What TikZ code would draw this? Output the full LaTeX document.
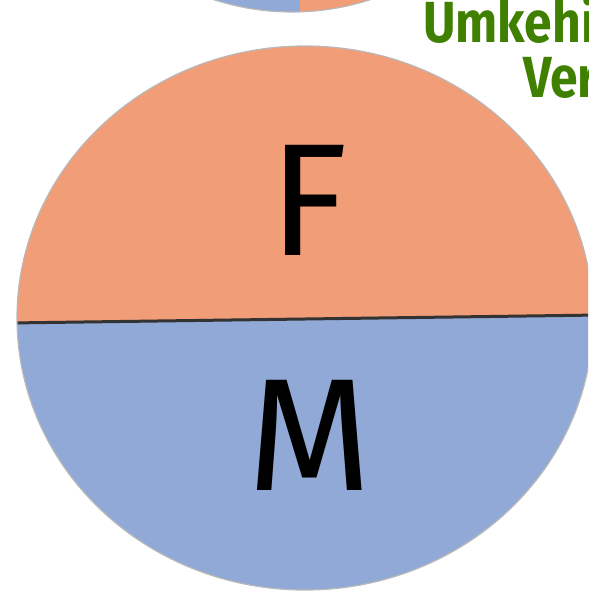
\documentclass[tikz,border=0pt]{standalone}
\usepackage{fontspec}
\newfontfamily\titlefont[FakeStretch=0.86]{Fira Sans}
\newfontfamily\letterfont{Fira Sans}
\definecolor{femalecol}{RGB}{240,157,120}
\definecolor{malecol}{RGB}{145,169,214}
\definecolor{titlecol}{RGB}{64,128,0}
\begin{document}
\begin{tikzpicture}[
    x=1pt, y=-1pt,
    title/.style={font=\titlefont\bfseries\fontsize{58}{58}\selectfont, text=titlecol, inner sep=0pt, anchor=base west},
    letter/.style={font=\letterfont\fontsize{160}{160}\selectfont, inner sep=0pt},
    rim/.style={draw=gray!55, line width=1.2pt},
    divider/.style={draw=black!80, line width=3pt},
]
    \useasboundingbox (0,0) rectangle (588,596);
    \clip (0,0) rectangle (588,596);

    % Circle above, cut off at the top
    \begin{scope}
        \clip (292,-240) circle[radius=252];
        \fill[malecol] (0,-600) rectangle (300,20);
        \fill[femalecol] (300,-600) rectangle (600,20);
    \end{scope}
    \draw[rim] (292,-240) circle[radius=252];

    % Main circle: F above, M below
    \coordinate (lineL) at (10,323);
    \coordinate (lineR) at (600,315);
    \begin{scope}
        \clip (305,318) ellipse[x radius=288, y radius=272];
        \fill[femalecol] (0,0) -- (lineL) -- (lineR) -- (600,0) -- cycle;
        \fill[malecol] (lineL) -- (lineR) -- (600,600) -- (0,600) -- cycle;
        \draw[divider] (lineL) -- (lineR);
    \end{scope}
    \draw[rim] (305,318) ellipse[x radius=288, y radius=272];

    \node[letter] (female) at (309,200) {F};
    \node[letter] (male) at (310,435) {M};

    % Title, cut off at the right
    \node[title] (title1) at (423,43) {Umkehi};
    \node[title] (title2) at (523,98) {Ver};
\end{tikzpicture}
\end{document}
